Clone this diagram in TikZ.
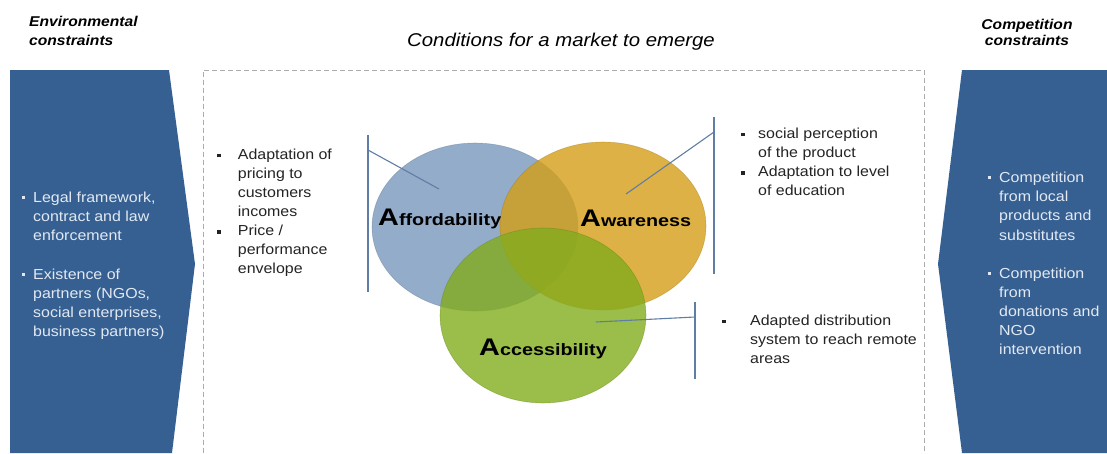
\documentclass[tikz,border=0pt]{standalone}
\usepackage{fontspec}
\setmainfont{Liberation Sans}[FakeStretch=1.1]
\newfontfamily\lblfont{Liberation Sans}[FakeStretch=1.2]
\usetikzlibrary{shapes.geometric}
\definecolor{panelblue}{RGB}{55,96,146}
\definecolor{paneltext}{RGB}{226,233,242}
\definecolor{bodytext}{RGB}{35,35,35}
\definecolor{affblue}{RGB}{120,151,188}
\definecolor{awagold}{RGB}{212,158,22}
\definecolor{accgreen}{RGB}{130,172,28}
\definecolor{linkcol}{RGB}{95,125,165}
\newcommand\bsq{\rule[1.6pt]{3.6pt}{3.6pt}}
\newcommand\bi[2]{\makebox[#1][l]{#2}}
\begin{document}
\begin{tikzpicture}[x=1pt,y=-1pt,
  panel/.style={fill=panelblue,draw=none},
  venn/.style={ellipse,inner sep=0,minimum width=206,fill opacity=0.8,line width=0.6pt,draw opacity=0.35},
  lbl/.style={anchor=base west,inner sep=0,text=black,font=\lblfont\bfseries\fontsize{16.5}{16.5}\selectfont},
  body/.style={anchor=base west,inner sep=0,text=bodytext,font=\fontsize{14.5}{19.1}\selectfont},
  ptext/.style={anchor=base west,inner sep=0,text=paneltext,font=\fontsize{14.5}{19.1}\selectfont},
  head/.style={inner sep=0,text=black,font=\bfseries\itshape\fontsize{14.2}{19}\selectfont},
  link/.style={draw=linkcol,line width=1.1pt}]
\useasboundingbox (0,0) rectangle (1107,453);
% side panels
\path[panel] (10,70) -- (169,70) -- (195,264) -- (172,453) -- (10,453) -- cycle;
\path[panel] (1107,70) -- (962,70) -- (938,264) -- (962,453) -- (1107,453) -- cycle;
% dashed frame
\draw[gray!65,line width=0.8pt,dash pattern=on 5pt off 3pt] (203,453) -- (203,70) -- (924,70) -- (924,453);
% headers
\node[head,anchor=base west] (envhead) at (29,26) {\begin{tabular}[t]{@{}l@{}}Environmental\\constraints\end{tabular}};
\node[head,anchor=base,font=\bfseries\itshape\fontsize{14.2}{16.4}\selectfont] (comphead) at (1027,29.5) {\begin{tabular}[t]{@{}c@{}}Competition\\constraints\end{tabular}};
\node[inner sep=0,anchor=base,font=\itshape\fontsize{18.5}{18.5}\selectfont] (title) at (561,46.7) {Conditions for a market to emerge};
% venn ellipses
\node[venn,fill=affblue,draw=affblue!70!black,minimum height=168] (aff) at (475,227) {};
\node[venn,fill=awagold,draw=awagold!70!black,minimum height=168] (awa) at (603,226) {};
\node[venn,fill=accgreen,draw=accgreen!70!black,minimum height=175] (acc) at (543,315.5) {};
% labels
\node[lbl] (afflbl) at (378,225) {{\fontsize{24}{24}\selectfont A}ffordability};
\node[lbl] (awalbl) at (580,226) {{\fontsize{24}{24}\selectfont A}wareness};
\node[lbl] (acclbl) at (479,355) {{\fontsize{24}{24}\selectfont A}ccessibility};
% brackets and connectors
\coordinate (b1t) at (368,135); \coordinate (b1b) at (368,292);
\coordinate (b1s) at (368,150); \coordinate (b1e) at (439,189);
\coordinate (b2t) at (714,117); \coordinate (b2b) at (714,274);
\coordinate (b2s) at (714,132); \coordinate (b2e) at (626,194);
\coordinate (b3t) at (695,302); \coordinate (b3b) at (695,379);
\coordinate (b3s) at (695,317); \coordinate (b3e) at (596,322);
\draw[link] (b1t) -- (b1b); \draw[link] (b1s) -- (b1e);
\draw[link] (b2t) -- (b2b); \draw[link] (b2s) -- (b2e);
\draw[link] (b3t) -- (b3b); \draw[link] (b3s) -- (b3e);
% text blocks
\node[body] (afftext) at (217,159) {\begin{tabular}[t]{@{}l@{}l@{}}\bi{20.7pt}{\bsq}&Adaptation of\\&pricing to\\&customers\\&incomes\\\bi{20.7pt}{\bsq}&Price /\\&performance\\&envelope\end{tabular}};
\node[body] (awatext) at (741,138) {\begin{tabular}[t]{@{}l@{}l@{}}\bi{17pt}{\bsq}&social perception\\&of the product\\\bi{17pt}{\bsq}&Adaptation to level\\&of education\end{tabular}};
\node[body] (acctext) at (722,325) {\begin{tabular}[t]{@{}l@{}l@{}}\bi{28pt}{\bsq}&Adapted distribution\\&system to reach remote\\&areas\end{tabular}};
\node[ptext] (envtext) at (22,202.7) {\begin{tabular}[t]{@{}l@{}l@{}}\bi{11pt}{\rule[3.5pt]{3pt}{3pt}}&Legal framework,\\&contract and law\\&enforcement\\&\\\bi{11pt}{\rule[3.5pt]{3pt}{3pt}}&Existence of\\&partners (NGOs,\\&social enterprises,\\&business partners)\end{tabular}};
\node[ptext] (comptext) at (988,182.7) {\begin{tabular}[t]{@{}l@{}l@{}}\bi{11pt}{\rule[3.5pt]{3pt}{3pt}}&Competition\\&from local\\&products and\\&substitutes\\&\\\bi{11pt}{\rule[3.5pt]{3pt}{3pt}}&Competition\\&from\\&donations and\\&NGO\\&intervention\end{tabular}};
\end{tikzpicture}
\end{document}
